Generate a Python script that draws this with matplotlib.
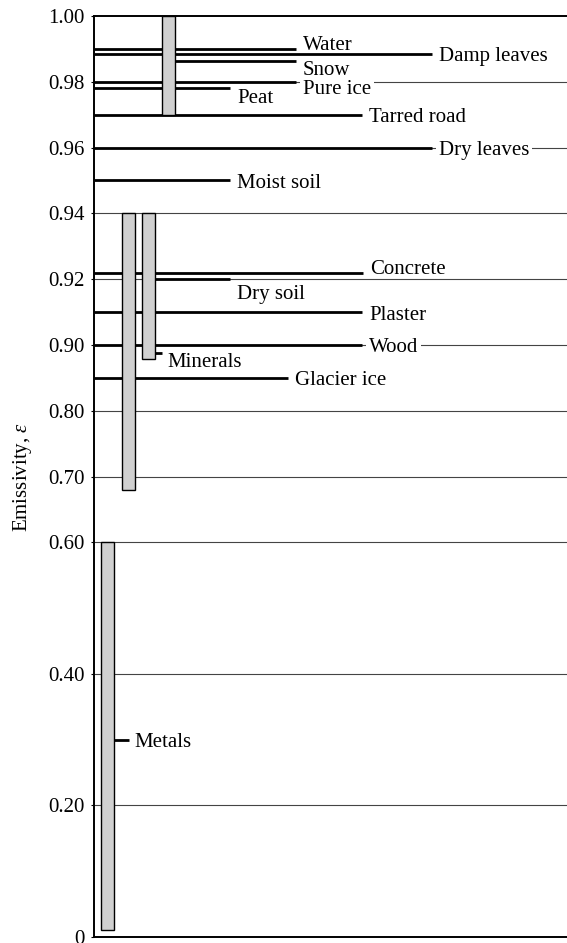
import matplotlib
matplotlib.use('Agg')
import matplotlib.pyplot as plt
import matplotlib.transforms as mtransforms
import numpy as np

plt.rcParams['font.family'] = ['Liberation Serif', 'DejaVu Serif']
plt.rcParams['mathtext.fontset'] = 'custom'
plt.rcParams['mathtext.it'] = 'Liberation Serif:italic'
plt.rcParams['mathtext.rm'] = 'Liberation Serif'

# 单线材料：名称、发射率
names = ['Water', 'Damp leaves', 'Snow', 'Pure ice', 'Peat', 'Tarred road',
         'Dry leaves', 'Moist soil', 'Concrete', 'Dry soil', 'Plaster',
         'Wood', 'Glacier ice']
values = [0.990, 0.9885, 0.9862, 0.980, 0.978, 0.970,
          0.960, 0.950, 0.9219, 0.920, 0.910, 0.900, 0.850]
label_y = [0.9919, 0.9885, 0.9842, 0.9787, 0.9758, 0.970,
           0.960, 0.950, 0.9237, 0.9163, 0.910, 0.900, 0.850]
x_start = [0, 0, 81, 0, 0, 0, 0, 0, 0, 61, 0, 0, 0]
x_end = [201.7, 337.7, 201.7, 201.7, 136, 267.7,
         337.7, 136, 268.7, 136, 268, 268, 194.3]
# 标签压在网格线上，用白底断开
white_bg = ['Pure ice', 'Dry leaves', 'Wood']

# 范围材料：柱
bar_lo = [0.01, 0.68, 0.878, 0.97]
bar_hi = [0.60, 0.94, 0.94, 1.00]
bar_x = [6.7, 27.7, 47.7, 67.7]
bar_w = 13.5

# 范围标签
range_names = ['Metals', 'Minerals']
range_tick = [0.30, 0.888]
range_label_y = [0.30, 0.878]
range_x0 = [20.2, 61.2]
range_x1 = [35, 68.3]

yticks = [0, 0.20, 0.40, 0.60, 0.70, 0.80, 0.90, 0.92, 0.94, 0.96, 0.98, 1.00]
ytick_labels = ['0', '0.20', '0.40', '0.60', '0.70', '0.80', '0.90',
                '0.92', '0.94', '0.96', '0.98', '1.00']
grid_vals = [0.20, 0.40, 0.60, 0.70, 0.80, 0.90, 0.92, 0.94, 0.96, 0.98]


def fwd(v):
    v = np.asarray(v, dtype=float)
    return np.where(v <= 0.9, v / 0.1, 9 + (v - 0.9) / 0.02)


def inv(u):
    u = np.asarray(u, dtype=float)
    return np.where(u <= 9, u * 0.1, 0.9 + (u - 9) * 0.02)


fig = plt.figure(figsize=(5.67, 9.43), dpi=100)
ax = fig.add_axes([94 / 567, 6 / 943, 473 / 567, 921 / 943])
ax.set_yscale('function', functions=(fwd, inv))
ax.set_ylim(0, 1.0)
ax.set_xlim(0, 473)

ax.set_yticks(yticks)
ax.set_yticklabels(ytick_labels)
ax.set_xticks([])
ax.tick_params(axis='y', length=2, width=0.8, pad=5, labelsize=15)
for t in grid_vals:
    ax.axhline(t, color='#444444', lw=0.8, zorder=1)

ax.spines['right'].set_visible(False)
for s in ['top', 'bottom', 'left']:
    ax.spines[s].set_linewidth(1.4)

# 文字往下挪一点
txt_tr = mtransforms.offset_copy(ax.transData, fig=fig, x=0, y=-3, units='dots')

ax.hlines(values, x_start, x_end, color='black', lw=2.0, zorder=2)
for n, ly, xe in zip(names, label_y, x_end):
    tb = dict(facecolor='white', edgecolor='none', pad=2) if n in white_bg else None
    ax.text(xe + 7, ly, n, fontsize=15, va='center', ha='left', bbox=tb,
            zorder=1.5, transform=txt_tr)

ax.bar(bar_x, np.array(bar_hi) - np.array(bar_lo), bottom=bar_lo, width=bar_w,
       align='edge', color='#d0d0d0', edgecolor='black', lw=1.0, zorder=3)

ax.hlines(range_tick, range_x0, range_x1, color='black', lw=2.0, zorder=2)
for n, ly, xe in zip(range_names, range_label_y, range_x1):
    ax.text(xe + 5, ly, n, fontsize=15, va='center', ha='left',
            zorder=4, transform=txt_tr)

fig.text(22 / 567, 1 - 477 / 943, r'Emissivity, $\varepsilon$', fontsize=15,
         rotation=90, ha='center', va='center')

fig.savefig('out.png', dpi=100)
